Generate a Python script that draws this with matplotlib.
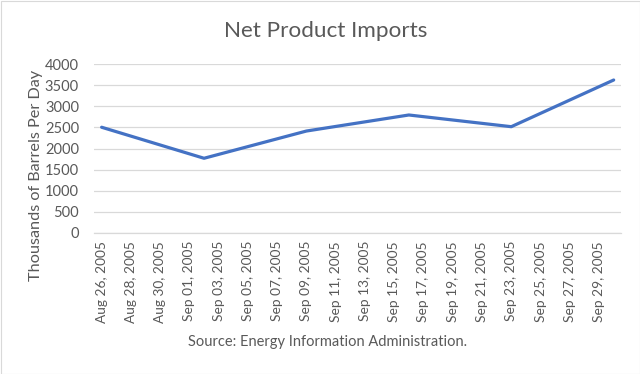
import matplotlib
matplotlib.use("Agg")
import matplotlib.pyplot as plt
import matplotlib.dates as mdates
import datetime as dt

dates = ["2005-08-26", "2005-09-02", "2005-09-09", "2005-09-16", "2005-09-23", "2005-09-30"]
values = [2505, 1768, 2415, 2796, 2518, 3627]
tick_dates = ["2005-08-26", "2005-08-28", "2005-08-30", "2005-09-01", "2005-09-03", "2005-09-05",
              "2005-09-07", "2005-09-09", "2005-09-11", "2005-09-13", "2005-09-15", "2005-09-17",
              "2005-09-19", "2005-09-21", "2005-09-23", "2005-09-25", "2005-09-27", "2005-09-29"]
yticks = [0, 500, 1000, 1500, 2000, 2500, 3000, 3500, 4000]

plt.rcParams['font.family'] = ['Lato', 'DejaVu Sans']

x = [mdates.date2num(dt.datetime.strptime(d, "%Y-%m-%d")) for d in dates]
tx = [mdates.date2num(dt.datetime.strptime(d, "%Y-%m-%d")) for d in tick_dates]
tl = [dt.datetime.strptime(d, "%Y-%m-%d").strftime("%b %d, %Y") for d in tick_dates]

fig = plt.figure(figsize=(6.4, 3.74), dpi=100)
ax = fig.add_axes([94.3/640, 1-232.7/374, (621-94.3)/640, (232.7-64.3)/374])

ax.plot(x, values, color="#4472C4", linewidth=2.3, solid_capstyle="round", zorder=3)
ax.set_xlim(x[0]-0.5, x[-1]+0.5)
ax.set_ylim(0, 4000)
ax.set_yticks(yticks)
ax.set_xticks(tx)
ax.set_xticklabels(tl, rotation=90, fontsize=9.9, color="#595959")
ax.tick_params(axis='y', labelsize=10.5, labelcolor="#595959", length=0, pad=11)
ax.tick_params(axis='x', length=0, pad=6)
ax.grid(axis='y', color="#D9D9D9", linewidth=0.9)
for s in ["top", "right", "left"]:
    ax.spines[s].set_visible(False)
ax.spines["bottom"].set_color("#D9D9D9")
ax.spines["bottom"].set_linewidth(0.9)
ax.set_axisbelow(True)

fig.text(36/640, 1-175/374, "Thousands of Barrels Per Day", fontsize=11.7, color="#595959",
         rotation=90, ha="center", va="center")
fig.text(326/640, 1-31/374, "Net Product Imports", fontsize=16.2, color="#595959", ha="center", va="center")
fig.text(328/640, 1-342/374, "Source: Energy Information Administration.", fontsize=10.5, color="#595959", ha="center", va="center")

border = plt.Rectangle((0.5/640, 0.5/374), 1-1/640, 1-1/374, transform=fig.transFigure,
                       fill=False, edgecolor="#D9D9D9", linewidth=0.8)
fig.patches.append(border)

fig.savefig("out.png", dpi=100)
